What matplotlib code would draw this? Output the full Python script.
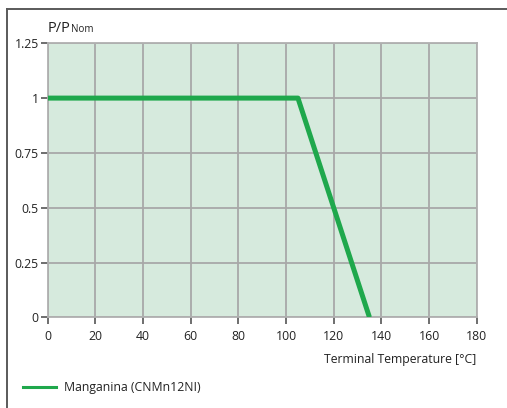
import matplotlib
matplotlib.use("Agg")
import matplotlib.pyplot as plt
from matplotlib.lines import Line2D

# derating curve
temp = [0, 105, 135]
p_ratio = [1.0, 1.0, 0.0]
xticks = [0, 20, 40, 60, 80, 100, 120, 140, 160, 180]
yticks = [0, 0.25, 0.5, 0.75, 1, 1.25]
ytick_labels = ["0", "0.25", "0.5", "0.75", "1", "1.25"]
series_name = "Manganina (CNMn12NI)"

plt.rcParams['font.family'] = ['Open Sans', 'DejaVu Sans']

W, H = 507, 408
fig = plt.figure(figsize=(W / 100, H / 100), dpi=100)
ax = fig.add_axes([47.7 / W, 1 - 317.3 / H, (476.7 - 47.7) / W, (317.3 - 43.3) / H])

ax.set_facecolor('#d6eadd')
ax.plot(temp, p_ratio, color='#1fa84c', lw=3.6, solid_capstyle='butt', zorder=3)

ax.set_xlim(0, 180)
ax.set_ylim(0, 1.25)
ax.set_xticks(xticks)
ax.set_yticks(yticks)
ax.set_yticklabels(ytick_labels)
ax.grid(True, color='#a8a8a8', lw=1.3)
ax.set_axisbelow(True)
for s in ax.spines.values():
    s.set_color('#b0b0b0')
    s.set_linewidth(1.3)
ax.tick_params(axis='both', colors='#555555', length=5, width=1.2,
               labelsize=8.8, labelcolor='#222222')
ax.tick_params(axis='x', pad=4)
ax.tick_params(axis='y', pad=1.5)

# axis titles
fig.text(476.5 / W, 1 - 360 / H, "Terminal Temperature [°C]", ha='right', va='center',
         fontsize=8.8, color='#222222')
t1 = fig.text(48 / W, 1 - 31.5 / H, "P/P", ha='left', va='baseline', fontsize=10.5,
              color='#222222')
fig.canvas.draw()
bb = t1.get_window_extent()
fig.text(bb.x1 / W + 0.5 / W, 1 - 31.5 / H, "Nom", ha='left', va='baseline', fontsize=7,
         color='#222222')

# legend drawn by hand under the axis
fig.add_artist(Line2D([23 / W, 55.7 / W], [1 - 386.7 / H] * 2, color='#1fa84c', lw=2.2))
fig.text(64 / W, 1 - 388 / H, series_name, ha='left', va='center', fontsize=8.8, color='#222222')

# outer frame (top and left edges visible)
fig.add_artist(Line2D([6.5 / W, 1], [1 - 8.5 / H] * 2, color='#5a5a5a', lw=1.4))
fig.add_artist(Line2D([6.5 / W] * 2, [0, 1 - 8.5 / H], color='#5a5a5a', lw=1.4))

fig.savefig("out.png", dpi=100)
